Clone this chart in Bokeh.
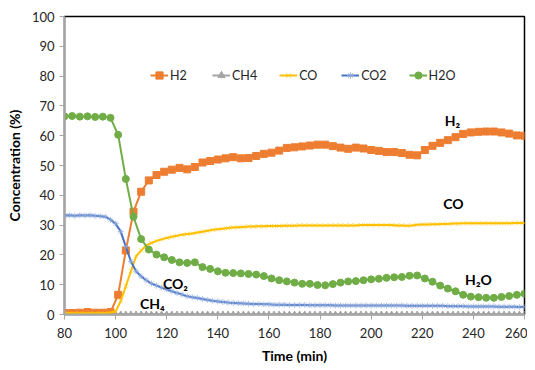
import numpy as np
from bokeh.plotting import figure
from bokeh.models import Range1d, Label, FixedTicker, Legend
from bokeh.embed import file_html
from bokeh.resources import INLINE

# ---- data ----
t_h = [80, 83, 86, 89, 92, 95, 98, 101, 104, 107, 110, 113, 116, 119, 122, 125, 128, 131, 134, 137,
       140, 143, 146, 149, 152, 155, 158, 161, 164, 167, 170, 173, 176, 179, 182, 185, 188, 191, 194, 197,
       200, 203, 206, 209, 212, 215, 218, 221, 224, 227, 230, 233, 236, 239, 242, 245, 248, 251, 254, 257, 260]
h2 = [0.5, 0.5, 0.6, 0.8, 0.6, 0.6, 0.8, 6.6, 21.5, 34.5, 41.2, 45.0, 46.8, 47.9, 48.6, 49.2, 48.7, 49.5, 51.0, 51.5,
      52.0, 52.4, 52.8, 52.4, 52.5, 53.2, 53.9, 54.3, 55.0, 55.9, 56.1, 56.4, 56.7, 57.0, 57.0, 56.5, 56.0, 55.6, 56.0, 55.7,
      55.2, 54.9, 54.5, 54.5, 54.2, 53.6, 53.4, 55.2, 56.6, 57.6, 58.5, 59.5, 60.6, 61.1, 61.3, 61.4, 61.4, 61.1, 60.7, 60.1, 60.0]
h2o = [66.5, 66.6, 66.4, 66.5, 66.3, 66.4, 66.0, 60.3, 45.5, 32.8, 25.3, 21.8, 20.1, 19.2, 18.3, 17.5, 17.3, 17.5, 15.9, 15.3,
       14.5, 14.0, 13.9, 13.8, 13.6, 13.4, 12.9, 12.1, 11.5, 11.1, 10.7, 10.3, 10.3, 9.9, 9.8, 10.2, 10.7, 11.1, 11.2, 11.5,
       11.8, 12.0, 12.3, 12.5, 12.6, 13.0, 13.1, 12.1, 11.0, 9.7, 8.7, 7.8, 6.6, 6.0, 5.8, 5.6, 5.6, 5.9, 6.2, 6.6, 7.0]

t_c = list(range(80, 261, 2))
co = [0.4, 0.5, 0.4, 0.5, 0.4, 0.5, 0.4, 0.5, 0.5, 0.7,
      1.0, 4.5, 9.5, 14.5, 19.5, 21.5, 23.2, 24.0, 24.7, 25.2,
      25.7, 26.1, 26.4, 26.8, 27.0, 27.2, 27.5, 27.8, 28.1, 28.4,
      28.6, 28.8, 29.0, 29.2, 29.3, 29.4, 29.5, 29.5, 29.6, 29.6,
      29.7, 29.7, 29.7, 29.8, 29.8, 29.8, 29.9, 29.9, 29.9, 29.9,
      29.9, 29.9, 29.9, 29.9, 29.9, 29.9, 29.9, 29.9, 30.0, 30.0,
      30.0, 30.0, 30.0, 30.0, 30.0, 29.9, 29.9, 29.8, 29.9, 30.1,
      30.2, 30.2, 30.3, 30.3, 30.4, 30.4, 30.5, 30.5, 30.6, 30.6,
      30.6, 30.6, 30.6, 30.6, 30.6, 30.6, 30.6, 30.6, 30.7, 30.7, 30.7]
co2 = [33.2, 33.3, 33.1, 33.3, 33.2, 33.3, 33.1, 33.0,
       32.8, 31.8, 30.5, 27.8, 22.8, 17.8, 14.5, 12.8, 11.5, 10.4, 9.7, 9.0, 8.4, 7.8, 7.2, 6.7, 6.1, 5.8,
       5.5, 5.2, 4.9, 4.6, 4.4, 4.2, 4.0, 3.9, 3.8, 3.7, 3.6, 3.5, 3.5, 3.4, 3.4,
       3.3, 3.3, 3.3, 3.2, 3.2, 3.2, 3.2, 3.1, 3.1, 3.1,
       3.1, 3.1, 3.0, 3.0, 3.0, 3.0, 3.0, 3.0, 3.0, 3.0,
       3.0, 3.0, 3.0, 3.0, 3.0, 3.0, 2.9, 2.9, 2.9, 2.9,
       2.9, 2.9, 2.9, 2.9, 2.8, 2.8, 2.8, 2.8, 2.7, 2.7,
       2.7, 2.7, 2.7, 2.7, 2.6, 2.6, 2.6, 2.6, 2.5, 2.5]

t_m = list(range(100, 261, 2))
ch4 = [0.0, 0.0, 0.0, 0.0, 0.0, 0.0, 0.0, 0.0, 0.0, 0.0,
       0.0, 0.0, 0.0, 0.0, 0.0, 0.0, 0.0, 0.0, 0.0, 0.0,
       0.0, 0.0, 0.0, 0.0, 0.0, 0.0, 0.0, 0.0, 0.0, 0.0,
       0.0, 0.0, 0.0, 0.0, 0.0, 0.0, 0.0, 0.0, 0.0, 0.0,
       0.0, 0.0, 0.0, 0.0, 0.0, 0.0, 0.0, 0.0, 0.0, 0.0,
       0.0, 0.0, 0.0, 0.0, 0.0, 0.0, 0.0, 0.0, 0.0, 0.0,
       0.0, 0.0, 0.0, 0.0, 0.0, 0.0, 0.0, 0.0, 0.0, 0.0,
       0.0, 0.0, 0.0, 0.0, 0.0, 0.0, 0.0, 0.0, 0.0, 0.0, 0.0]

x_ticks = [80, 100, 120, 140, 160, 180, 200, 220, 240, 260]
y_ticks = [0, 10, 20, 30, 40, 50, 60, 70, 80, 90, 100]

ann_text = ["H₂", "CO", "H₂O", "CO₂", "CH₄"]
ann_x = [231.8, 232.2, 242.0, 123.4, 114.4]
ann_y = [65.1, 37.2, 11.7, 10.4, 3.7]

FONT = "Lato"
C_H2, C_CH4, C_CO, C_CO2, C_H2O = "#ED7D31", "#A5A5A5", "#FFC000", "#4472C4", "#70AD47"

p = figure(width=527, height=366, output_backend="svg", toolbar_location=None,
           x_range=Range1d(80, 260), y_range=Range1d(0, 100),
           min_border_left=64, min_border_right=3, min_border_top=16, min_border_bottom=48)
p.background_fill_color = "white"
p.border_fill_color = "white"
p.outline_line_color = "black"
p.outline_line_width = 1.5
p.grid.visible = False

for ax in (p.xaxis[0], p.yaxis[0]):
    ax.axis_line_color = "#A6A6A6"
    ax.axis_line_width = 2
    ax.major_tick_line_color = "#A6A6A6"
    ax.major_tick_in = 0
    ax.major_tick_out = 5
    ax.minor_tick_line_color = None
    ax.major_label_text_font = FONT
    ax.major_label_text_font_size = "13px"
    ax.major_label_text_color = "#262626"
    ax.axis_label_text_font = FONT
    ax.axis_label_text_font_style = "bold"
    ax.axis_label_text_font_size = "14px"
    ax.axis_label_text_color = "#000000"
p.xaxis.ticker = FixedTicker(ticks=x_ticks)
p.yaxis.ticker = FixedTicker(ticks=y_ticks)
p.xaxis.axis_label = "Time (min)"
p.yaxis.axis_label = "Concentration (%)"
p.xaxis.major_label_standoff = 8
p.xaxis.axis_label_standoff = 6
p.yaxis.major_label_standoff = 5
p.yaxis.axis_label_standoff = 6

r1 = p.line(t_h, h2, line_color=C_H2, line_width=2)
r1m = p.scatter(t_h, h2, marker="square", size=7, fill_color=C_H2, line_color=C_H2)
r2 = p.line(t_m, ch4, line_color=C_CH4, line_width=2)
r2m = p.scatter(t_m, ch4, marker="triangle", size=6, fill_color=C_CH4, line_color=C_CH4)
r3 = p.line(t_c, co, line_color=C_CO, line_width=2)
r3m = p.scatter(t_c, co, marker="x", size=6, line_color=C_CO, line_alpha=0.6)
r4 = p.line(t_c, co2, line_color=C_CO2, line_width=2)
r4m = p.scatter(t_c, co2, marker="asterisk", size=6, line_color="#8FAADC", line_alpha=0.7)
r5 = p.line(t_h, h2o, line_color=C_H2O, line_width=2)
r5m = p.scatter(t_h, h2o, marker="circle", size=7, fill_color=C_H2O, line_color=C_H2O)

legend = Legend(items=[("H2", [r1, r1m]), ("CH4", [r2, r2m]), ("CO", [r3, r3m]),
                       ("CO2", [r4, r4m]), ("H2O", [r5, r5m])],
                orientation="horizontal", location=(86, 229))
legend.background_fill_alpha = 0
legend.border_line_color = None
legend.label_text_font = FONT
legend.label_text_font_size = "12.5px"
legend.label_text_color = "#262626"
legend.glyph_width = 18
legend.label_standoff = 2
legend.spacing = 22
legend.padding = 0
legend.margin = 0
p.add_layout(legend, "center")

for txt, xx, yy in zip(ann_text, ann_x, ann_y):
    p.add_layout(Label(x=xx, y=yy, text=txt, text_font=FONT, text_font_style="bold",
                       text_font_size="14px", text_color="#000000",
                       text_align="center", text_baseline="middle"))

open("out.html", "w").write(file_html(p, INLINE))
